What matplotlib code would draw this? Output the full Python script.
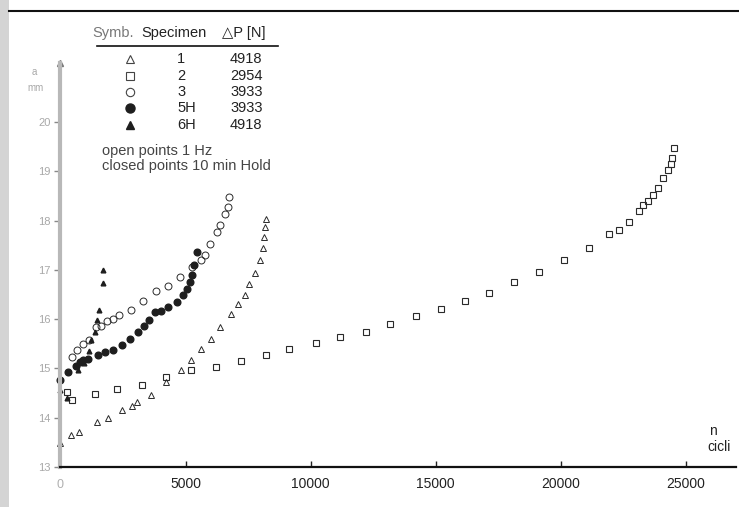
import matplotlib

matplotlib.use("Agg")
import matplotlib.pyplot as plt
from matplotlib.lines import Line2D
from matplotlib.patches import Rectangle

plt.rcParams["font.family"] = ["Liberation Sans", "DejaVu Sans"]

# specimen 1 (open triangles, 1 Hz)
n1 = [0, 400, 750, 1470, 1880, 2450, 2860, 3050, 3630, 4220, 4820, 5220, 5620,
      6000, 6390, 6800, 7100, 7380, 7550, 7780, 7980, 8110, 8150, 8180, 8210]
a1 = [13.48, 13.64, 13.71, 13.91, 13.99, 14.16, 14.23, 14.31, 14.46, 14.72, 14.97,
      15.18, 15.39, 15.59, 15.84, 16.10, 16.31, 16.50, 16.71, 16.94, 17.20, 17.45,
      17.67, 17.87, 18.04]

# specimen 2 (open squares, 1 Hz)
n2 = [250, 450, 1390, 2250, 3240, 4220, 5210, 6210, 7200, 8210, 9140, 10210, 11190,
      12210, 13180, 14190, 15190, 16170, 17140, 18140, 19110, 20110, 21110, 21930,
      22310, 22720, 23110, 23290, 23470, 23690, 23870, 24090, 24270, 24390, 24460, 24540]
a2 = [14.52, 14.36, 14.48, 14.58, 14.66, 14.83, 14.96, 15.03, 15.16, 15.28, 15.40,
      15.52, 15.64, 15.75, 15.91, 16.06, 16.21, 16.37, 16.54, 16.75, 16.95, 17.20,
      17.44, 17.72, 17.82, 17.98, 18.19, 18.31, 18.40, 18.52, 18.67, 18.86, 19.02,
      19.16, 19.27, 19.48]

# specimen 3 (open circles, 1 Hz)
n3 = [450, 640, 910, 1150, 1400, 1630, 1860, 2110, 2340, 2800, 3310, 3800, 4300,
      4790, 5270, 5620, 5780, 5960, 6250, 6380, 6570, 6690, 6730]
a3 = [15.24, 15.38, 15.49, 15.58, 15.84, 15.87, 15.96, 16.00, 16.08, 16.19, 16.37,
      16.57, 16.68, 16.85, 17.05, 17.21, 17.30, 17.52, 17.76, 17.92, 18.13, 18.27, 18.48]

# specimen 5H (filled circles, 10 min hold)
n5 = [0, 310, 620, 780, 910, 1110, 1510, 1790, 2090, 2460, 2780, 3090, 3340, 3550,
      3790, 4010, 4310, 4670, 4910, 5050, 5180, 5270, 5350, 5460]
a5 = [14.76, 14.93, 15.06, 15.14, 15.17, 15.20, 15.27, 15.33, 15.37, 15.47, 15.60,
      15.74, 15.87, 15.98, 16.14, 16.16, 16.24, 16.34, 16.50, 16.62, 16.75, 16.90,
      17.10, 17.37]

# specimen 6H (filled triangles, 10 min hold)
n6 = [0, 260, 680, 920, 1120, 1200, 1370, 1460, 1540, 1680, 1690]
a6 = [14.56, 14.40, 14.96, 15.12, 15.36, 15.58, 15.75, 15.98, 16.19, 16.73, 16.99]

x_ticks = [5000, 10000, 15000, 20000, 25000]
y_ticks = [13, 14, 15, 16, 17, 18, 19, 20]
table_symb = ["1", "2", "3", "5H", "6H"]
table_dp = ["4918", "2954", "3933", "3933", "4918"]

W, H = 739, 507
fig = plt.figure(figsize=(W / 100, H / 100), dpi=100)
fig.patch.set_facecolor("white")


def fx(px):
    return px / W


def fy(py):
    return 1 - py / H


ax = fig.add_axes([fx(60.5), fy(467), (736 - 60.5) / W, (467 - 63) / H])
ax.set_xlim(0, 27000)
ax.set_ylim(13, 21.2)
ax.patch.set_alpha(0)

ec = "#2a2a2a"
ax.plot(n2, a2, ls="none", marker="s", ms=4.8, mfc="none", mec=ec, mew=0.8, clip_on=False)
ax.plot(n1, a1, ls="none", marker="^", ms=4, mfc="none", mec=ec, mew=0.7, clip_on=False)
ax.plot(n3, a3, ls="none", marker="o", ms=5, mfc="none", mec=ec, mew=0.7, clip_on=False)
ax.plot(n5, a5, ls="none", marker="o", ms=4.8, mfc="#1e1e1e", mec="#1e1e1e", clip_on=False)
ax.plot(n6, a6, ls="none", marker="^", ms=3.4, mfc="#1e1e1e", mec="#1e1e1e", clip_on=False)

for s in ["top", "right"]:
    ax.spines[s].set_visible(False)
ax.spines["bottom"].set_linewidth(1.6)
ax.spines["bottom"].set_color("#111111")
ax.spines["left"].set_linewidth(3)
ax.spines["left"].set_color("#b8b8b8")
ax.plot(1.003, 0, ">", color="#111111", ms=6, transform=ax.get_yaxis_transform(), clip_on=False)
ax.plot(0, 1.0, "^", color="#777777", ms=5, transform=ax.get_xaxis_transform(), clip_on=False)

ax.set_xticks(x_ticks)
ax.set_xticklabels([str(v) for v in x_ticks])
ax.tick_params(axis="x", direction="in", length=4, width=1, color="#222222",
               labelsize=10, labelcolor="#222222", pad=7)
ax.set_yticks(y_ticks)
ax.set_yticklabels([str(v) for v in y_ticks])
ax.tick_params(axis="y", direction="out", length=4, width=1, color="#888888",
               labelsize=8, labelcolor="#a8a8a8", pad=3)
ax.text(0, 12.75, "0", ha="center", va="top", fontsize=9, color="#b0b0b0")

# axis captions
fig.text(fx(34), fy(72), "a", ha="center", va="center", fontsize=7, color="#a8a8a8")
fig.text(fx(36), fy(88), "mm", ha="center", va="center", fontsize=7, color="#a8a8a8")
fig.text(fx(713), fy(431), "n", ha="center", va="center", fontsize=10, color="#222222")
fig.text(fx(731), fy(447), "cicli", ha="right", va="center", fontsize=10, color="#222222")

# legend table
fig.text(fx(92), fy(33), "Symb.", ha="left", va="center", fontsize=10.5, color="#777777")
fig.text(fx(141), fy(33), "Specimen", ha="left", va="center", fontsize=10.5, color="#222222")
fig.text(fx(222), fy(33), "△P [N]", ha="left", va="center", fontsize=10.5, color="#222222")
fig.add_artist(Line2D([fx(97), fx(278)], [fy(46), fy(46)], color="#111111", lw=1.2))

row_y = [59, 76, 92, 108, 125]
sym_style = [
    dict(marker="^", ms=6, mfc="none", mec="#444444", mew=0.8),
    dict(marker="s", ms=6, mfc="none", mec="#444444", mew=0.8),
    dict(marker="o", ms=6, mfc="none", mec="#444444", mew=0.8),
    dict(marker="o", ms=6.5, mfc="#1e1e1e", mec="#1e1e1e"),
    dict(marker="^", ms=6, mfc="#1e1e1e", mec="#1e1e1e"),
]
for y, sp, dp, st in zip(row_y, table_symb, table_dp, sym_style):
    fig.add_artist(Line2D([fx(130)], [fy(y)], ls="none", **st))
    fig.text(fx(177), fy(y), sp, ha="left", va="center", fontsize=10.5, color="#222222")
    fig.text(fx(230), fy(y), dp, ha="left", va="center", fontsize=10.5, color="#222222")

fig.text(fx(102), fy(151), "open points 1 Hz", ha="left", va="center", fontsize=10.5,
         color="#444444")
fig.text(fx(102), fy(166), "closed points 10 min Hold", ha="left", va="center",
         fontsize=10.5, color="#444444")

# page edge and top rule
fig.add_artist(Rectangle((0, 0), fx(9), 1, transform=fig.transFigure,
                         facecolor="#d4d4d4", edgecolor="none"))
fig.add_artist(Line2D([fx(9), 1], [fy(11), fy(11)], color="#111111", lw=1.5))

fig.savefig("out.png", dpi=100, facecolor="white")
